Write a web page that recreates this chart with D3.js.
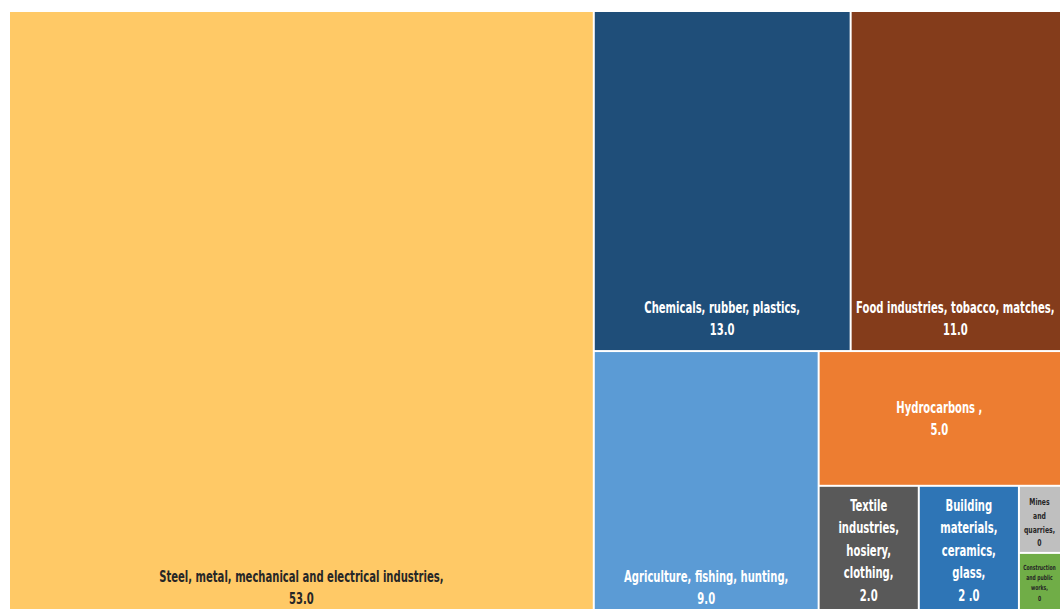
<!DOCTYPE html>
<html>
<head>
<meta charset="utf-8">
<script src="https://cdn.jsdelivr.net/npm/d3@7"></script>
<style>
  html, body { margin: 0; padding: 0; background: #ffffff; overflow: hidden; }
  svg { display: block; }
  .lbl { font-family: "Liberation Sans Narrow", "DejaVu Sans Condensed", "DejaVu Sans", sans-serif; font-weight: bold; }
</style>
</head>
<body>
<svg id="chart" width="1060" height="609"></svg>
<script>
// Sectors (in display order) and their shares
const categories = [
  "Steel, metal, mechanical and electrical industries",
  "Chemicals, rubber, plastics",
  "Food industries, tobacco, matches",
  "Agriculture, fishing, hunting",
  "Hydrocarbons ",
  "Textile industries, hosiery, clothing",
  "Building materials, ceramics, glass",
  "Mines and quarries",
  "Construction and public works"
];
const values = [53, 13, 11, 9, 5, 2, 2, 0.49, 0.49];
const valueLabels = ["53.0", "13.0", "11.0", "9.0", "5.0", "2.0", "2 .0", "0", "0"];

// Fill and label colours
const fill = d3.scaleOrdinal(categories, [
  "#FFC966", "#1F4E79", "#843C1B", "#5B9BD5", "#ED7D31",
  "#595959", "#2E75B6", "#BFBFBF", "#70AD47"
]);
const darkText = new Set([categories[0], categories[7], categories[8]]);
const inlineValue = new Set([categories[7]]);

const W = 1060, H = 609;
const svg = d3.select("#chart");
const origin = { x: 10, y: 12 };
const size = [1057, 607];

const root = d3.hierarchy({
  children: categories.map((c, i) => ({ name: c, value: values[i], label: valueLabels[i] }))
}).sum(d => d.children ? 0 : d.value);

d3.treemap()
  .tile(d3.treemapSquarify.ratio(1))
  .size(size)
  .paddingInner(2)
  .round(false)(root);

const g = svg.append("g").attr("transform", `translate(${origin.x},${origin.y})`);

const cell = g.selectAll("g.cell")
  .data(root.leaves())
  .join("g")
  .attr("class", "cell");

cell.append("rect")
  .attr("x", d => d.x0)
  .attr("y", d => d.y0)
  .attr("width", d => d.x1 - d.x0)
  .attr("height", d => d.y1 - d.y0)
  .attr("fill", d => fill(d.data.name));

// Labels: bold, horizontally condensed, word-wrapped to the visible part of each cell
const baseSize = 15.5;
const squeeze = 0.72;
const scratch = svg.append("text").attr("class", "lbl").attr("visibility", "hidden");
function measure(s, fs) {
  scratch.attr("font-size", fs).text(s);
  return scratch.node().getComputedTextLength() * squeeze;
}
function wrap(text, maxW, fs) {
  const words = text.split(/ /);
  const lines = [];
  let cur = "";
  words.forEach(w => {
    const trial = cur ? cur + " " + w : w;
    if (cur && measure(trial, fs) > maxW) {
      lines.push(cur);
      cur = w;
    } else {
      cur = trial;
    }
  });
  if (cur) lines.push(cur);
  return lines;
}

cell.each(function(d) {
  const vx0 = d.x0, vx1 = Math.min(d.x1, W - origin.x - 1);
  const vy0 = d.y0, vy1 = d.y1;
  const w = vx1 - vx0, h = vy1 - vy0;
  const maxW = w - 8;
  const full = inlineValue.has(d.data.name)
    ? d.data.name + ", " + d.data.label
    : d.data.name + ",";

  // shrink the type when the longest single word cannot fit the cell
  let fs = baseSize;
  const longest = d3.max(full.split(" "), s => measure(s, baseSize));
  if (longest > maxW) fs = Math.max(7, baseSize * maxW / longest);
  const lineH = fs * 1.45;

  let lines = wrap(full, maxW, fs);
  if (!inlineValue.has(d.data.name)) lines = lines.concat([d.data.label]);
  const n = lines.length;

  let firstBase;
  if (h > 200) {
    firstBase = vy1 - 15 - (n - 1) * lineH;
  } else if (w > 200) {
    firstBase = (vy0 + vy1) / 2 - (n - 1) * lineH / 2 + fs * 0.35;
  } else {
    firstBase = vy0 + 10 + fs * 0.9;
  }
  // keep the block inside the visible frame
  const lastBase = firstBase + (n - 1) * lineH;
  const limit = H - origin.y - 4;
  if (lastBase > limit) firstBase -= (lastBase - limit);

  const cx = (vx0 + vx1) / 2;
  const t = d3.select(this).append("text")
    .attr("class", "lbl")
    .attr("font-size", fs)
    .attr("text-anchor", "middle")
    .attr("transform", `translate(${cx},0) scale(${squeeze},1)`)
    .attr("fill", darkText.has(d.data.name) ? "#262626" : "#ffffff");
  lines.forEach((ln, i) => {
    t.append("tspan")
      .attr("x", 0)
      .attr("y", firstBase + i * lineH)
      .text(ln);
  });
});

scratch.remove();
</script>
</body>
</html>
